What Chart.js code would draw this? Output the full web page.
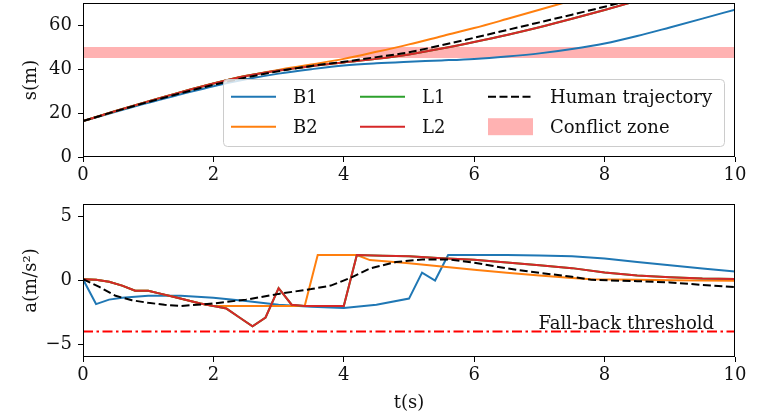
<!DOCTYPE html>
<html><head><meta charset="utf-8">
<script src="https://cdn.jsdelivr.net/npm/chart.js@4.4.0/dist/chart.umd.min.js"></script>
<style>
html,body{margin:0;padding:0;background:#fff;width:765px;height:419px;overflow:hidden}
#c1{position:absolute;left:0;top:0}
#c2{position:absolute;left:0;top:190px}
</style></head><body>
<canvas id="c1" width="765" height="190"></canvas>
<canvas id="c2" width="765" height="229"></canvas>
<script>
// ---------------- data ----------------
const xTicks = [0, 2, 4, 6, 8, 10];
const sTicks = [0, 20, 40, 60];
const aTicks = [-5, 0, 5];

// positions s(m) over time
const timeS = [0,0.5,1,1.5,2,2.5,3,3.5,4,4.5,5,5.5,6,6.5,7,7.5,8,8.5,9,9.5,10];
const sB1 = [16.3,20.6,24.7,28.5,32.2,35.3,37.9,39.9,41.6,42.6,43.3,43.9,44.6,45.7,47.1,49.1,51.6,55.0,58.9,62.9,67.0];
const sB2 = [16.3,20.9,25.3,29.5,33.4,36.9,39.6,42.0,44.6,47.8,51.2,54.9,58.6,62.7,66.9,71.2,null,null,null,null,null];
const sL1 = [16.3,20.9,25.3,29.5,33.4,36.8,39.3,41.3,43.0,44.6,46.6,49.3,52.3,55.5,59.0,62.8,66.8,71.0,null,null,null];
const sL2 = [16.3,20.9,25.3,29.5,33.4,36.8,39.3,41.3,43.0,44.6,46.6,49.3,52.3,55.5,59.0,62.8,66.8,71.0,null,null,null];
const sHuman = [16.3,20.8,25.0,29.0,32.8,36.1,39.0,41.4,43.3,45.4,47.6,50.8,54.2,57.7,61.2,64.7,68.3,72.0,null,null,null];
const zoneLow = 45, zoneHigh = 50;

// accelerations a(m/s^2)
const tB1 = [0,0.2,0.4,0.6,1.0,1.5,2.0,2.5,3.0,3.5,4.0,4.5,5.0,5.2,5.4,5.6,6.0,6.5,7.0,7.5,8.0,8.5,9.0,9.5,10];
const aB1 = [0.1,-1.85,-1.5,-1.35,-1.2,-1.2,-1.35,-1.6,-1.9,-2.05,-2.15,-1.9,-1.42,0.62,0.0,2.0,2.0,2.0,1.97,1.9,1.72,1.45,1.2,0.95,0.7];
const tB2 = [0,0.2,0.4,0.6,0.8,1.0,1.2,1.4,1.6,1.8,2.0,2.2,3.4,3.6,4.2,4.4,5.0,5.5,6.0,6.5,7.0,7.5,7.8,8.5,9.0,10];
const aB2 = [0.1,0.05,-0.1,-0.4,-0.8,-0.8,-1.05,-1.3,-1.55,-1.8,-2.0,-2.0,-2.0,2.0,2.0,1.6,1.35,1.1,0.85,0.6,0.4,0.2,0.1,0.05,0.02,-0.02];
const tL = [0,0.2,0.4,0.6,0.8,1.0,1.2,1.4,1.6,1.8,2.0,2.2,2.4,2.6,2.8,3.0,3.2,3.4,3.6,3.8,4.0,4.2,4.6,5.0,5.5,6.0,6.5,7.0,7.5,8.0,8.5,9.0,9.5,10];
const aL1 = [0.1,0.05,-0.1,-0.4,-0.8,-0.8,-1.05,-1.3,-1.55,-1.8,-2.0,-2.2,-2.9,-3.6,-2.9,-0.6,-1.9,-2.0,-2.0,-2.0,-2.0,2.0,1.95,1.9,1.75,1.62,1.42,1.2,0.97,0.62,0.4,0.25,0.15,0.12];
const aL2 = [0.1,0.05,-0.1,-0.4,-0.8,-0.8,-1.05,-1.3,-1.55,-1.8,-2.0,-2.2,-2.9,-3.6,-2.9,-0.6,-1.9,-2.0,-2.0,-2.0,-2.0,2.0,1.95,1.9,1.75,1.62,1.42,1.2,0.97,0.62,0.4,0.25,0.15,0.12];
const tHuman = [0,0.25,0.5,0.75,1.0,1.25,1.5,1.75,2.0,2.5,3.0,3.5,3.8,4.1,4.4,4.8,5.2,5.6,6.0,6.5,7.0,7.5,7.8,8.5,9.0,9.5,10];
const aHuman = [0.1,-0.5,-1.2,-1.55,-1.75,-1.9,-2.0,-1.9,-1.8,-1.5,-1.05,-0.67,-0.4,0.2,0.95,1.45,1.65,1.65,1.4,0.95,0.6,0.3,0.05,-0.05,-0.15,-0.35,-0.52];
const tThreshold = [0, 10];
const aThreshold = [-4, -4];
const thresholdLabel = 'Fall-back threshold';

// ---------------- helpers ----------------
const FONT = "'DejaVu Serif', serif";
const TXT = '#111';
const C = {B1:'#1f77b4', B2:'#ff7f0e', L1:'#2ca02c', L2:'#d62728', H:'#000000', zone:'rgba(255,0,0,0.3)', thr:'#ff0000'};
const zip = (xs, ys) => xs.map((x,i)=>({x, y: ys[i]})).filter(p => p.y !== null);
const fmt = v => v < 0 ? '\u2212' + Math.abs(v) : String(v);

function xAxis(height, title) {
  return {
    type:'linear', min:0, max:10,
    afterBuildTicks: s => { s.ticks = xTicks.map(v => ({value:v})); },
    afterFit: s => { s.height = height; s.paddingLeft = 0; s.paddingRight = 0; },
    grid:{display:true, drawOnChartArea:false, drawTicks:true, tickLength:5, color:'#000', lineWidth:1},
    border:{display:false},
    ticks:{font:{family:FONT,size:18}, color:TXT, padding:3, maxRotation:0, autoSkip:false, callback: v => fmt(v)},
    title: title ? {display:true, text:title, font:{family:FONT,size:18}, color:TXT, padding:{top:0,bottom:5}} : {display:false}
  };
}
function yAxis(min, max, ticks, title) {
  return {
    type:'linear', min, max,
    afterBuildTicks: s => { s.ticks = ticks.map(v => ({value:v})); },
    afterFit: s => { s.width = 83; s.paddingTop = 0; s.paddingBottom = 0; },
    grid:{display:true, drawOnChartArea:false, drawTicks:true, tickLength:5, color:'#000', lineWidth:1},
    border:{display:false},
    ticks:{font:{family:FONT,size:18}, color:TXT, padding:6, autoSkip:false, callback: v => fmt(v)},
    title:{display:true, text:title, font:{family:FONT,size:18}, color:TXT, padding:{top:21,bottom:0}}
  };
}
const framePlugin = {
  id:'frame',
  afterDatasetsDraw(chart){
    const {ctx, chartArea:a} = chart;
    ctx.save();
    ctx.strokeStyle = '#000'; ctx.lineWidth = 1;
    ctx.strokeRect(Math.round(a.left)+0.5, Math.round(a.top)+0.5, Math.round(a.right-a.left)-1, Math.round(a.bottom-a.top)-1);
    ctx.restore();
  }
};
function line(label, color, data, order, extra) {
  return Object.assign({label, data, borderColor:color, backgroundColor:color, borderWidth:2,
    pointRadius:0, fill:false, order, tension:0}, extra||{});
}
const smooth = {cubicInterpolationMode:'monotone'};

// ---------------- legend (top) ----------------
const legendOrder = [['B1','B2'],['L1','L2'],['Human trajectory','Conflict zone']];
const legendPlugin = {
  id:'customLegend',
  afterDraw(chart){
    const {ctx, chartArea:a} = chart;
    const ds = chart.data.datasets;
    ctx.save();
    const bx = a.left + 140.5, by = a.top + 76.5, bw = 501, bh = 67;
    ctx.beginPath();
    ctx.roundRect(bx, by, bw, bh, 4);
    ctx.fillStyle = 'rgba(255,255,255,0.8)'; ctx.fill();
    ctx.strokeStyle = '#cccccc'; ctx.lineWidth = 1; ctx.stroke();
    const colX = [a.left + 148, a.left + 277, a.left + 405];
    const rowY = [a.top + 93.7, a.top + 123.7];
    ctx.font = "18px " + FONT;
    ctx.textBaseline = 'alphabetic';
    ctx.textAlign = 'left';
    legendOrder.forEach((col, ci) => col.forEach((lab, ri) => {
      const d = ds.find(e => e.label === lab);
      const x = colX[ci], y = rowY[ri];
      if (d.fill && d.fill.value !== undefined) {
        ctx.fillStyle = d.backgroundColor;
        ctx.fillRect(x, y - 8.5, 45, 17);
      } else {
        ctx.beginPath();
        ctx.setLineDash(d.borderDash || []);
        ctx.strokeStyle = d.borderColor; ctx.lineWidth = d.borderWidth;
        ctx.moveTo(x, y); ctx.lineTo(x + 45, y); ctx.stroke();
        ctx.setLineDash([]);
      }
      ctx.fillStyle = TXT;
      ctx.fillText(lab, x + 62, y + 6.5);
    }));
    ctx.restore();
  }
};

// ---------------- threshold label (bottom) ----------------
const thresholdText = {
  id:'thresholdText',
  afterDatasetsDraw(chart){
    const {ctx, chartArea:a, scales:{y}} = chart;
    ctx.save();
    ctx.font = "18px " + FONT;
    ctx.fillStyle = TXT; ctx.textAlign = 'right'; ctx.textBaseline = 'alphabetic';
    ctx.fillText(thresholdLabel, a.right - 21, y.getPixelForValue(aThreshold[0]) - 2.5);
    ctx.restore();
  }
};

const common = {
  responsive:false, animation:false, devicePixelRatio:1, events:[],
  plugins:{legend:{display:false}, tooltip:{enabled:false}},
};

new Chart(document.getElementById('c1'), {
  type:'line',
  data:{datasets:[
    line('B1', C.B1, zip(timeS, sB1), 5, smooth),
    line('B2', C.B2, zip(timeS, sB2), 4, smooth),
    line('L1', C.L1, zip(timeS, sL1), 3, smooth),
    line('L2', C.L2, zip(timeS, sL2), 2, smooth),
    line('Human trajectory', C.H, zip(timeS, sHuman), 1, Object.assign({borderDash:[8,3.5]}, smooth)),
    {label:'Conflict zone', data: zip([0,10],[zoneHigh,zoneHigh]), fill:{value:zoneLow},
     backgroundColor:C.zone, borderColor:'rgba(0,0,0,0)', borderWidth:0, pointRadius:0, order:10}
  ]},
  options: Object.assign({}, common, {
    layout:{padding:{left:0,right:30,top:3,bottom:0}},
    scales:{x: xAxis(33, null), y: yAxis(0, 70, sTicks, 's(m)')}
  }),
  plugins:[framePlugin, legendPlugin]
});

new Chart(document.getElementById('c2'), {
  type:'line',
  data:{datasets:[
    line('B1', C.B1, zip(tB1, aB1), 5),
    line('B2', C.B2, zip(tB2, aB2), 4),
    line('L1', C.L1, zip(tL, aL1), 3),
    line('L2', C.L2, zip(tL, aL2), 2),
    line('Human trajectory', C.H, zip(tHuman, aHuman), 1, {borderDash:[8,3.5]}),
    line(thresholdLabel, C.thr, zip(tThreshold, aThreshold), 0, {borderDash:[10,3.5,2.5,3.5]})
  ]},
  options: Object.assign({}, common, {
    layout:{padding:{left:0,right:30,top:14,bottom:0}},
    scales:{x: xAxis(62, 't(s)'), y: yAxis(-6, 6, aTicks, 'a(m/s\u00B2)')}
  }),
  plugins:[framePlugin, thresholdText]
});
</script>
</body></html>
